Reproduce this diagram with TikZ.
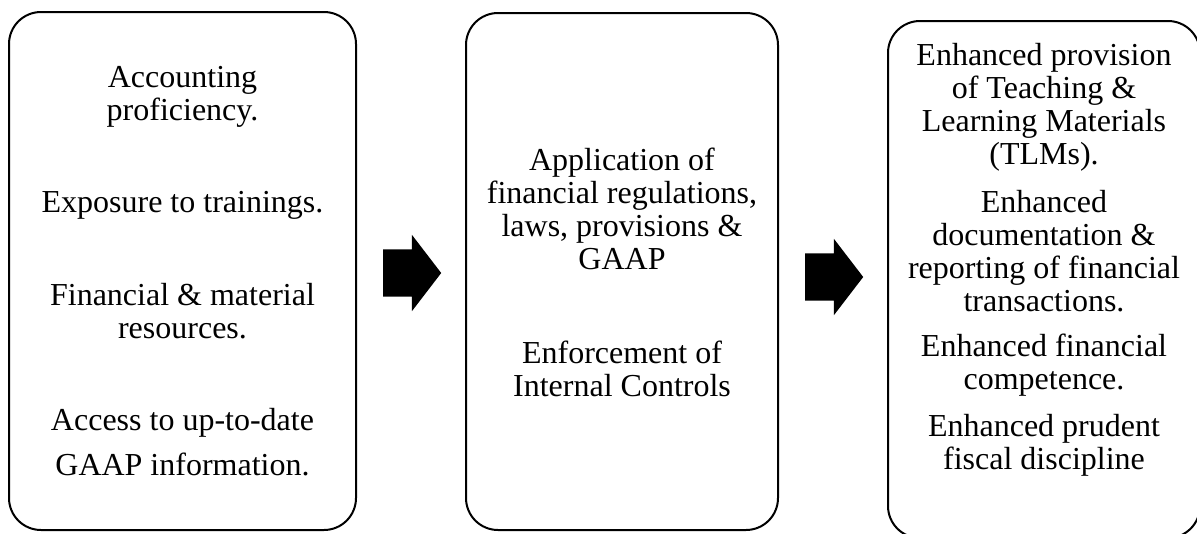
\documentclass[tikz,border=0pt]{standalone}
\usepackage{fontspec}
\setmainfont{Liberation Serif}
\usetikzlibrary{shapes.arrows}

\begin{document}
\begin{tikzpicture}[x = 1pt, y = -1pt,
box/.style = {draw, line width = 2pt, rounded corners = 32pt, inner sep = 0pt},
txt/.style = {align = center, anchor = base, inner sep = 0pt, font = \fontsize{32}{33}\selectfont},
blk/.style = {single arrow, fill = black, anchor = tail, inner xsep = 0pt, inner ysep = 23.5pt, minimum height = 58pt,
  single arrow head extend = 14.5pt, single arrow tip angle = 105}
]
\useasboundingbox (0,0) rectangle (1197,533);
\clip (0,0) rectangle (1197,533);
% three boxes
\node[box, minimum width = 347pt, minimum height = 518pt] (inp) at (182.5,271) {};
\node[box, minimum width = 312pt, minimum height = 517pt] (prc) at (622,271.5) {};
\node[box, minimum width = 312pt, minimum height = 517pt] (out) at (1044,279.5) {};
% inputs (placed at baseline of last line)
\node[txt] (i1) at (182.5,120) {Accounting\\proficiency.};
\node[txt] (i2) at (182.5,212) {Exposure to trainings.};
\node[txt] (i3) at (182.5,338) {Financial \& material\\resources.};
\node[txt] (i4) at (182.5,475) {Access to up-to-date\\[12pt]GAAP information.};
% process
\node[txt] (p1) at (622,269) {Application of\\financial regulations,\\laws, provisions \&\\GAAP};
\node[txt] (p2) at (622,396) {Enforcement of\\Internal Controls};
% outcomes
\node[txt] (o1) at (1044,164) {Enhanced provision\\of Teaching \&\\Learning Materials\\(TLMs).};
\node[txt] (o2) at (1044,311) {Enhanced\\documentation \&\\reporting of financial\\transactions.};
\node[txt] (o3) at (1044,389) {Enhanced financial\\competence.};
\node[txt] (o4) at (1044,469) {Enhanced prudent\\fiscal discipline};
% block arrows
\node[blk] (a1) at (383,273) {};
\node[blk] (a2) at (805,277) {};
\end{tikzpicture}
\end{document}
